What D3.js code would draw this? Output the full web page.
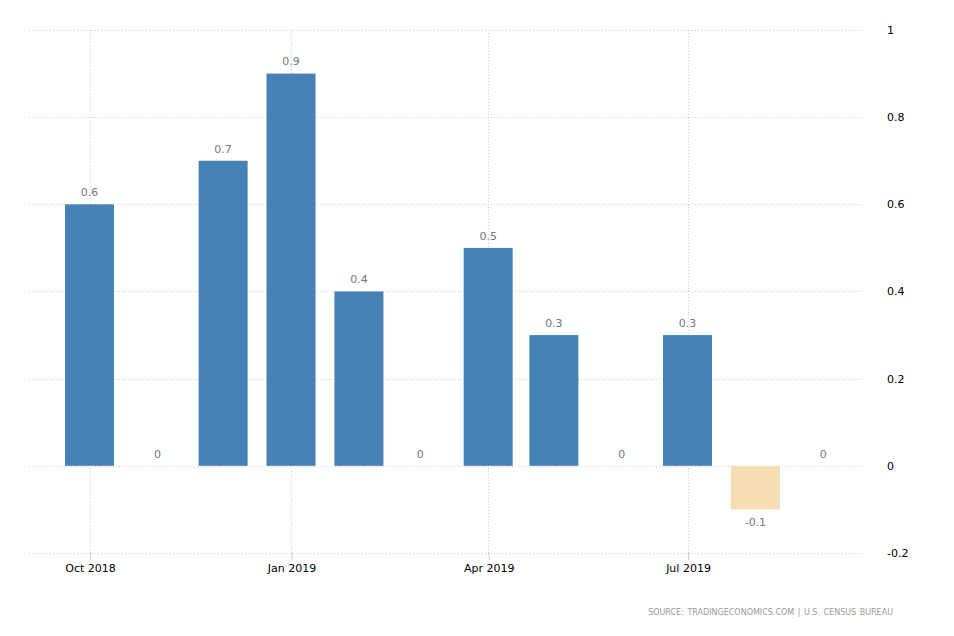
<!DOCTYPE html>
<html>
<head>
<meta charset="utf-8">
<script src="https://cdn.jsdelivr.net/npm/d3@7"></script>
<style>
  body { margin: 0; background: #fff; }
  text { font-family: "DejaVu Sans", sans-serif; }
</style>
</head>
<body>
<div id="viz"></div>
<script>
// monthly change, Oct 2018 .. Sep 2019
const months = ["2018-10", "2018-11", "2018-12", "2019-01", "2019-02", "2019-03",
                "2019-04", "2019-05", "2019-06", "2019-07", "2019-08", "2019-09"];
const values = [0.6, 0, 0.7, 0.9, 0.4, 0, 0.5, 0.3, 0, 0.3, -0.1, 0];
const yTicks = [1, 0.8, 0.6, 0.4, 0.2, 0, -0.2];
const xTickMonths = ["2018-10", "2019-01", "2019-04", "2019-07"];

const width = 954, height = 636;
const parse = d3.timeParse("%Y-%m");
const data = months.map((m, i) => ({ date: parse(m), value: values[i] }));

const svg = d3.select("#viz").append("svg")
  .attr("width", width)
  .attr("height", height);

const left = 29, right = 863;

// time scale: month starts sit at bar centres
const x = d3.scaleTime()
  .domain([parse("2018-10"), parse("2019-07")])
  .range([89.5, 687.5]);

const y = d3.scaleLinear()
  .domain([-0.2, 1])
  .range([553, 30]);

const barW = 49;

// horizontal grid
svg.append("g").selectAll("line")
  .data(yTicks)
  .join("line")
  .attr("x1", left).attr("x2", right)
  .attr("y1", d => Math.round(y(d)) + 0.5)
  .attr("y2", d => Math.round(y(d)) + 0.5)
  .attr("stroke", "#ccc")
  .attr("stroke-dasharray", "1,2");

// vertical grid
svg.append("g").selectAll("line")
  .data(xTickMonths.map(parse))
  .join("line")
  .attr("x1", d => Math.round(x(d)) + 0.5)
  .attr("x2", d => Math.round(x(d)) + 0.5)
  .attr("y1", y(1)).attr("y2", y(-0.2))
  .attr("stroke", "#ccc")
  .attr("stroke-dasharray", "1,2");

// bottom axis
const xAxis = d3.axisBottom(x)
  .tickValues(xTickMonths.map(parse))
  .tickFormat(d3.timeFormat("%b %Y"))
  .tickSize(7)
  .tickPadding(4);

const gx = svg.append("g")
  .attr("transform", `translate(0.5,${y(-0.2)})`)
  .call(xAxis);
gx.select(".domain").remove();
gx.selectAll(".tick line").attr("stroke", "#ccc");
gx.selectAll(".tick text")
  .attr("fill", "#000")
  .style("font-size", "11px")
  .style("font-family", "DejaVu Sans, sans-serif");

// right axis labels
svg.append("g").selectAll("text")
  .data(yTicks)
  .join("text")
  .attr("x", 887)
  .attr("y", d => y(d))
  .attr("dy", "0.35em")
  .attr("fill", "#000")
  .style("font-size", "11px")
  .text(d => d);

// bars
svg.append("g").selectAll("rect")
  .data(data.filter(d => d.value !== 0))
  .join("rect")
  .attr("x", d => x(d.date) - barW / 2)
  .attr("width", barW)
  .attr("y", d => y(Math.max(0, d.value)))
  .attr("height", d => Math.abs(y(d.value) - y(0)))
  .attr("fill", d => d.value < 0 ? "#f5deb3" : "#4682b4");

// value labels
svg.append("g").selectAll("text")
  .data(data)
  .join("text")
  .attr("x", d => x(d.date))
  .attr("y", d => d.value < 0 ? y(d.value) + 13 : y(d.value) - 12)
  .attr("dy", "0.35em")
  .attr("text-anchor", "middle")
  .attr("fill", "#777")
  .style("font-size", "11px")
  .text(d => d.value);

// source
svg.append("text")
  .attr("x", 893)
  .attr("y", 615)
  .attr("text-anchor", "end")
  .attr("fill", "#999")
  .style("font-size", "8px")
  .style("word-spacing", "1px")
  .text("SOURCE: TRADINGECONOMICS.COM | U.S. CENSUS BUREAU");
</script>
</body>
</html>
